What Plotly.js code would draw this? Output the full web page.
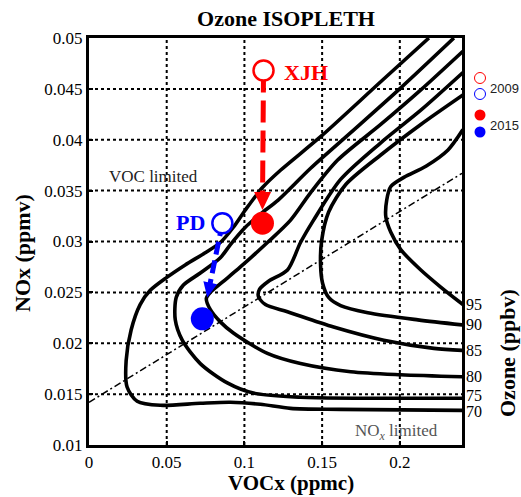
<!DOCTYPE html>
<html><head><meta charset="utf-8">
<script src="https://cdn.plot.ly/plotly-3.0.1.min.js"></script>
<style>html,body{margin:0;padding:0;background:#fff;}#chart{width:521px;height:497px;}</style>
</head><body><div id="chart"></div>
<script>
// ---- data ----
const levels = [70, 75, 80, 85, 90, 95];

const c70x = [0.2187,0.1877,0.1490,0.1232,0.1116,0.1006,0.0929,0.0845,0.0748,0.0619,0.0503,0.0394,0.0329,0.0271,0.0239,0.0245,0.0310,0.0458,0.0716,0.0910,0.1103,0.1297,0.1619,0.2406];
const c70y = [0.0500,0.0457,0.0403,0.0370,0.0353,0.0331,0.0314,0.0299,0.0289,0.0277,0.0265,0.0252,0.0238,0.0213,0.0183,0.0157,0.0143,0.0139,0.0141,0.0142,0.0140,0.0136,0.0135,0.0134];

const c75x = [0.2348,0.2006,0.1684,0.1426,0.1219,0.1103,0.1006,0.0910,0.0845,0.0716,0.0606,0.0561,0.0555,0.0600,0.0716,0.0890,0.1058,0.1361,0.2406];
const c75y = [0.0500,0.0451,0.0407,0.0372,0.0341,0.0327,0.0314,0.0297,0.0284,0.0269,0.0257,0.0245,0.0223,0.0203,0.0180,0.0161,0.0151,0.0147,0.0146];

const c80x = [0.2406,0.2135,0.1877,0.1600,0.1426,0.1297,0.1148,0.0974,0.0858,0.0781,0.0755,0.0781,0.0845,0.0929,0.1148,0.1361,0.1684,0.2006,0.2406];
const c80y = [0.0487,0.0449,0.0415,0.0380,0.0348,0.0321,0.0299,0.0275,0.0260,0.0250,0.0244,0.0233,0.0221,0.0210,0.0190,0.0180,0.0172,0.0169,0.0167];

const c85x = [0.2406,0.2135,0.1877,0.1619,0.1445,0.1361,0.1277,0.1155,0.1097,0.1090,0.1135,0.1277,0.1574,0.1897,0.2219,0.2406];
const c85y = [0.0466,0.0429,0.0397,0.0361,0.0321,0.0299,0.0272,0.0261,0.0253,0.0246,0.0238,0.0231,0.0216,0.0203,0.0195,0.0193];

const c90x = [0.2406,0.2135,0.1877,0.1652,0.1542,0.1497,0.1490,0.1503,0.1542,0.1619,0.1794,0.2116,0.2406];
const c90y = [0.0444,0.0415,0.0385,0.0356,0.0329,0.0301,0.0277,0.0259,0.0245,0.0237,0.0230,0.0223,0.0218];

const c95x = [0.2406,0.2310,0.2168,0.2026,0.1942,0.1916,0.1910,0.1942,0.2006,0.2135,0.2265,0.2406];
const c95y = [0.0410,0.0390,0.0374,0.0363,0.0354,0.0341,0.0324,0.0309,0.0292,0.0272,0.0255,0.0238];

const ridgeX = [0, 0.24];
const ridgeY = [0.0142, 0.0367];

const siteNames  = ['XJH', 'PD'];
const siteColors = ['#ff0000', '#0000ff'];
const site2009x = [0.1123, 0.0858];
const site2009y = [0.0468, 0.0318];
const site2015x = [0.1116, 0.0729];
const site2015y = [0.0318, 0.0224];
const arrowTipX = [0.1116, 0.0761];
const arrowTipY = [0.0331, 0.0245];

const xTickVals = [0, 0.05, 0.1, 0.15, 0.2];
const xTickText = ['0', '0.05', '0.1', '0.15', '0.2'];
const yTickVals = [0.01, 0.015, 0.02, 0.025, 0.03, 0.035, 0.04, 0.045, 0.05];
const yTickText = ['0.01', '0.015', '0.02', '0.025', '0.03', '0.035', '0.04', '0.045', '0.05'];
const legendYears = ['2009', '2015'];

// ---- geometry ----
const W = 521, H = 497, ML = 89, MR = 59, MT = 38, MB = 52;
const PW = W - ML - MR, PH = H - MT - MB;
const XR = [0, 0.24], YR = [0.01, 0.05];
const pxX = PW / (XR[1] - XR[0]), pxY = PH / (YR[1] - YR[0]);
const SERIF = 'Liberation Serif, Times New Roman, serif';

const contours = [
  [c70x, c70y], [c75x, c75y], [c80x, c80y], [c85x, c85y], [c90x, c90y], [c95x, c95y]
];

const shapes = [];
// dotted grid at the tick values (inside the frame)
xTickVals.filter(v => v > XR[0] && v < XR[1]).forEach(v => shapes.push({
  type: 'line', xref: 'x', yref: 'paper', x0: v, x1: v, y0: 0, y1: 1, layer: 'below',
  line: {color: '#000', width: 2, dash: 'dot'}
}));
yTickVals.filter(v => v > YR[0] && v < YR[1]).forEach(v => shapes.push({
  type: 'line', xref: 'paper', yref: 'y', x0: 0, x1: 1, y0: v, y1: v, layer: 'below',
  line: {color: '#000', width: 2, dash: 'dot'}
}));

const traces = [];
traces.push({
  x: ridgeX, y: ridgeY, mode: 'lines', hoverinfo: 'skip',
  line: {color: '#000', width: 1.5, dash: '7px,3px,2px,3px'}
});
contours.forEach(c => traces.push({
  x: c[0], y: c[1], mode: 'lines', hoverinfo: 'skip',
  line: {color: '#000', width: 3.6, shape: 'spline', smoothing: 0.8}
}));

const arrowGeom = [{L: 18, Wd: 8.5, dash: '22px,8px'}, {L: 15, Wd: 7, dash: '13px,6px'}];
siteNames.forEach((s, i) => {
  const dxp = (arrowTipX[i] - site2009x[i]) * pxX;
  const dyp = (arrowTipY[i] - site2009y[i]) * pxY; // up positive
  const len = Math.hypot(dxp, dyp);
  const ux = dxp / len, uy = dyp / len;
  const nx = -uy, ny = ux;
  const g = arrowGeom[i];
  const bx = -g.L * ux, by = -g.L * uy;
  traces.push({
    x: [site2009x[i], arrowTipX[i] + (bx * 0.7) / pxX],
    y: [site2009y[i], arrowTipY[i] + (by * 0.7) / pxY],
    mode: 'lines', hoverinfo: 'skip',
    line: {color: siteColors[i], width: 5, dash: g.dash}
  });
  shapes.push({
    type: 'path', xref: 'x', yref: 'y', xsizemode: 'pixel', ysizemode: 'pixel',
    xanchor: arrowTipX[i], yanchor: arrowTipY[i], layer: 'above',
    path: `M0,0 L${(bx + g.Wd * nx).toFixed(2)},${(by + g.Wd * ny).toFixed(2)} L${(bx - g.Wd * nx).toFixed(2)},${(by - g.Wd * ny).toFixed(2)} Z`,
    fillcolor: siteColors[i], line: {width: 0}
  });
});

traces.push({
  x: site2009x, y: site2009y, mode: 'markers', hoverinfo: 'skip',
  marker: {symbol: 'circle', size: 20, color: '#fff', line: {color: siteColors, width: 2.5}}
});
traces.push({
  x: site2015x, y: site2015y, mode: 'markers', hoverinfo: 'skip',
  marker: {symbol: 'circle', size: 23, color: siteColors, line: {width: 0}}
});

// legend (top right, outside plot)
const px2paperX = p => (p - ML) / PW;
const px2paperY = p => (H - MB - p) / PH;
const legendRows = [
  {year: 0, filled: false, ys: [78, 94], ty: 88},
  {year: 1, filled: true,  ys: [115, 132], ty: 125}
];
legendRows.forEach(r => {
  r.ys.forEach((yy, k) => {
    shapes.push({
      type: 'circle', xref: 'paper', yref: 'paper', xsizemode: 'pixel', ysizemode: 'pixel',
      xanchor: px2paperX(480), yanchor: px2paperY(yy), x0: -5.5, x1: 5.5, y0: -5.5, y1: 5.5,
      line: {color: r.filled ? 'rgba(0,0,0,0)' : siteColors[k], width: r.filled ? 0 : 1},
      fillcolor: r.filled ? siteColors[k] : 'rgba(0,0,0,0)'
    });
  });
});

const annotations = [];
legendRows.forEach(r => annotations.push({
  text: legendYears[r.year], xref: 'paper', yref: 'paper', x: px2paperX(488), y: px2paperY(r.ty),
  xanchor: 'left', yanchor: 'middle', showarrow: false,
  font: {family: 'Liberation Sans, Arial, sans-serif', size: 13, color: '#222'}
}));
// contour level labels at line ends
const labelShift = {75: -3, 70: 1};
contours.forEach((c, i) => annotations.push({
  text: String(levels[i]), xref: 'paper', yref: 'y', x: 1, y: c[1][c[1].length - 1],
  xanchor: 'left', yanchor: 'middle', xshift: 2, yshift: -(labelShift[levels[i]] || 0), showarrow: false,
  font: {family: SERIF, size: 16, color: '#000'}
}));
// site labels
annotations.push({text: '<b>' + siteNames[0] + '</b>', x: site2009x[0], y: site2009y[0], xanchor: 'left', yanchor: 'middle',
  xshift: 18, yshift: -2, showarrow: false, font: {family: SERIF, size: 22, color: siteColors[0]}});
annotations.push({text: '<b>' + siteNames[1] + '</b>', x: site2009x[1], y: site2009y[1], xanchor: 'right', yanchor: 'middle',
  xshift: -15, yshift: 1, showarrow: false, font: {family: SERIF, size: 22, color: siteColors[1]}});
// regime labels
annotations.push({text: 'VOC limited', x: 0.0413, y: 0.0364, showarrow: false,
  font: {family: SERIF, size: 17, color: '#222'}});
annotations.push({text: 'NO<sub><i>x</i></sub> limited', x: 0.198, y: 0.0113, showarrow: false,
  font: {family: SERIF, size: 17, color: '#555'}});
// axis titles
annotations.push({text: '<b>VOCx (ppmc)</b>', xref: 'paper', yref: 'paper', x: px2paperX(291), y: px2paperY(483),
  xanchor: 'center', yanchor: 'middle', showarrow: false, font: {family: SERIF, size: 21, color: '#000'}});
annotations.push({text: '<b>NOx (ppmv)</b>', xref: 'paper', yref: 'paper', x: px2paperX(22), y: px2paperY(253),
  xanchor: 'center', yanchor: 'middle', textangle: -90, showarrow: false, font: {family: SERIF, size: 22, color: '#000'}});
annotations.push({text: '<b>Ozone (ppbv)</b>', xref: 'paper', yref: 'paper', x: px2paperX(507), y: px2paperY(353),
  xanchor: 'center', yanchor: 'middle', textangle: -90, showarrow: false, font: {family: SERIF, size: 22, color: '#000'}});

const axisCommon = {
  showgrid: false, zeroline: false, showline: true, linewidth: 3, linecolor: '#000', mirror: true,
  ticks: 'inside', ticklen: 4, tickwidth: 2, tickcolor: '#000',
  tickfont: {family: SERIF, size: 17, color: '#000'}, fixedrange: true
};

const layout = {
  width: W, height: H,
  margin: {l: ML, r: MR, t: MT, b: MB, pad: 0},
  paper_bgcolor: '#fff', plot_bgcolor: '#fff', showlegend: false,
  font: {family: SERIF, color: '#000', size: 17},
  title: {text: '<b>Ozone ISOPLETH</b>', font: {family: SERIF, size: 22, color: '#000'},
    x: 286 / W, xanchor: 'center', y: 1 - 18 / H, yanchor: 'middle'},
  xaxis: Object.assign({}, axisCommon, {range: XR, tickvals: xTickVals, ticktext: xTickText}),
  yaxis: Object.assign({}, axisCommon, {range: YR, tickvals: yTickVals, ticktext: yTickText}),
  shapes: shapes, annotations: annotations
};

Plotly.newPlot('chart', traces, layout, {displayModeBar: false, staticPlot: true});
</script></body></html>
